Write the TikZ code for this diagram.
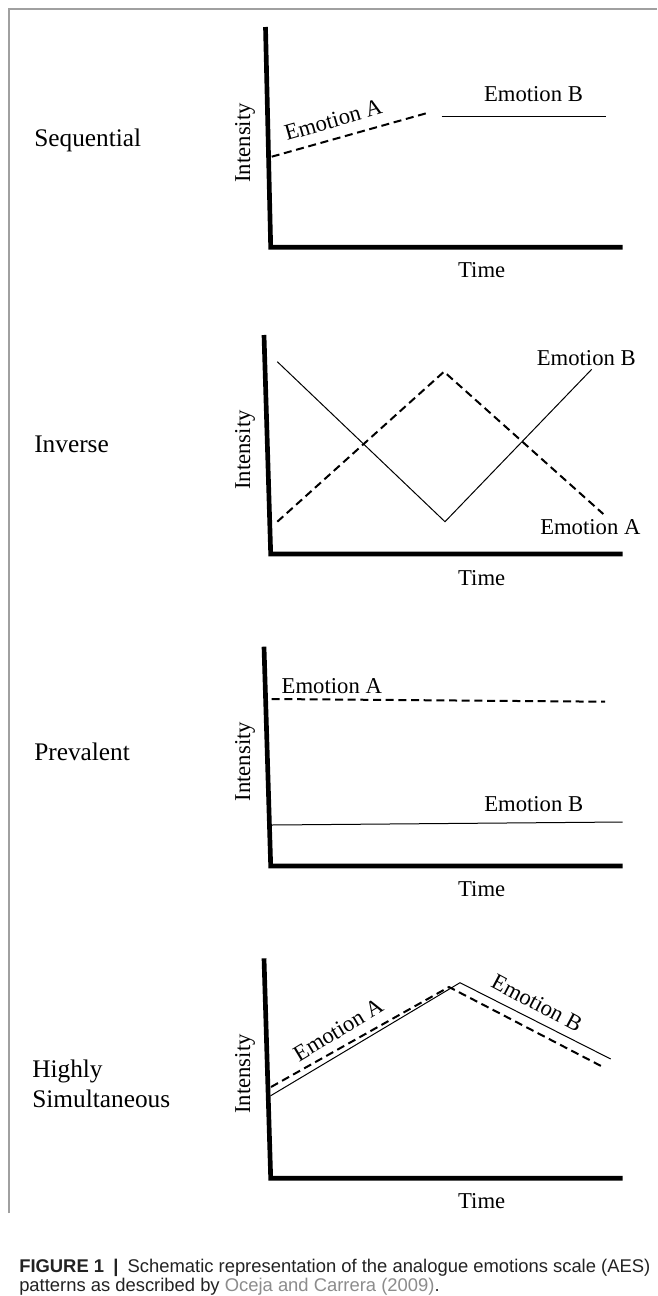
\documentclass[tikz,border=0pt]{standalone}
\usepackage{fontspec}
\setmainfont{Liberation Serif}
\setsansfont{Liberation Sans}
\definecolor{framegray}{HTML}{A0A0A0}
\definecolor{citegray}{HTML}{8C8C8C}
\definecolor{captblack}{HTML}{222222}

\begin{document}
\begin{tikzpicture}[x=0.75pt, y=-0.75pt,
    axis/.style={line width=3.5pt, line join=miter},
    emoA/.style={line width=1.5pt, dash pattern=on 6pt off 3.5pt},
    emoB/.style={line width=0.75pt},
    lbl/.style={font=\fontsize{17}{20}\selectfont, inner sep=0pt},
    rowname/.style={font=\fontsize{19}{22}\selectfont, anchor=base west, inner sep=0pt},
    capt/.style={font=\sffamily\fontsize{13.8}{16}\selectfont, text=captblack,
                 anchor=base west, inner sep=0pt}
  ]
  \useasboundingbox (0,0) rectangle (657,1296);
  \fill[white] (0,0) rectangle (657,1296);
  \draw[framegray, line width=1.5pt] (9,1213) -- (9,9) -- (657,9);

  % Sequential
  \node[rowname] (seqName) at (34,146) {Sequential};
  \draw[axis] (265.5,27) -- (270.7,247.3) -- (622.7,247.3);
  \draw[emoA] (271.7,156.7) -- (428.3,112.7);
  \draw[emoB] (441.7,116) -- (606,116);
  \node[lbl, rotate=16] (seqA) at (333.3,120) {Emotion A};
  \node[lbl, anchor=base] (seqB) at (533.5,101.7) {Emotion B};
  \node[lbl, anchor=base] (seqTime) at (481.7,277.3) {Time};
  \node[lbl, anchor=base, rotate=90] (seqInt) at (250,142.9) {Intensity};

  % Inverse
  \node[rowname] (invName) at (34,452.7) {Inverse};
  \draw[axis] (264,335) -- (270.7,554) -- (622.7,554);
  \draw[emoB] (277.3,361.7) -- (445,521.7) -- (591.7,369.3);
  \draw[emoA] (277.3,521.7) -- (444,371.7) -- (603.3,514);
  \node[lbl, anchor=base] (invB) at (586.3,365) {Emotion B};
  \node[lbl, anchor=base] (invA) at (590.3,534) {Emotion A};
  \node[lbl, anchor=base] (invTime) at (481.7,585) {Time};
  \node[lbl, anchor=base, rotate=90] (invInt) at (250,450) {Intensity};

  % Prevalent
  \node[rowname] (prvName) at (34,760) {Prevalent};
  \draw[axis] (264,646.7) -- (270.7,866) -- (622.7,866);
  \draw[emoA] (271.7,699) -- (605,701.7);
  \draw[emoB] (271.7,825) -- (622.7,822);
  \node[lbl, anchor=base] (prvA) at (331.8,693.3) {Emotion A};
  \node[lbl, anchor=base] (prvB) at (533.7,811) {Emotion B};
  \node[lbl, anchor=base] (prvTime) at (481.7,896) {Time};
  \node[lbl, anchor=base, rotate=90] (prvInt) at (250,761.7) {Intensity};

  % Highly Simultaneous
  \node[rowname] (simName) at (32,1077.3) {Highly};
  \node[rowname] (simName2) at (32,1107.3) {Simultaneous};
  \draw[axis] (264,958.3) -- (270.7,1178.3) -- (622.7,1178.3);
  \draw[emoB] (270.7,1095.7) -- (460,982.7) -- (610.7,1059);
  \draw[emoA] (271,1087) -- (449,987) -- (603,1067);
  \node[lbl, rotate=31] (simA) at (338.3,1030) {Emotion A};
  \node[lbl, rotate=-28] (simB) at (537,1003.3) {Emotion B};
  \node[lbl, anchor=base] (simTime) at (481.7,1208) {Time};
  \node[lbl, anchor=base, rotate=90] (simInt) at (250,1074) {Intensity};

  % caption
  \node[capt] (capLine1) at (19,1272) {\textbf{FIGURE 1}\hspace{0.5em}\textbf{|}\hspace{0.5em}Schematic representation of the analogue emotions scale (AES)};
  \node[capt] (capLine2) at (19,1291) {patterns as described by \textcolor{citegray}{Oceja and Carrera (2009)}.};
\end{tikzpicture}
\end{document}
